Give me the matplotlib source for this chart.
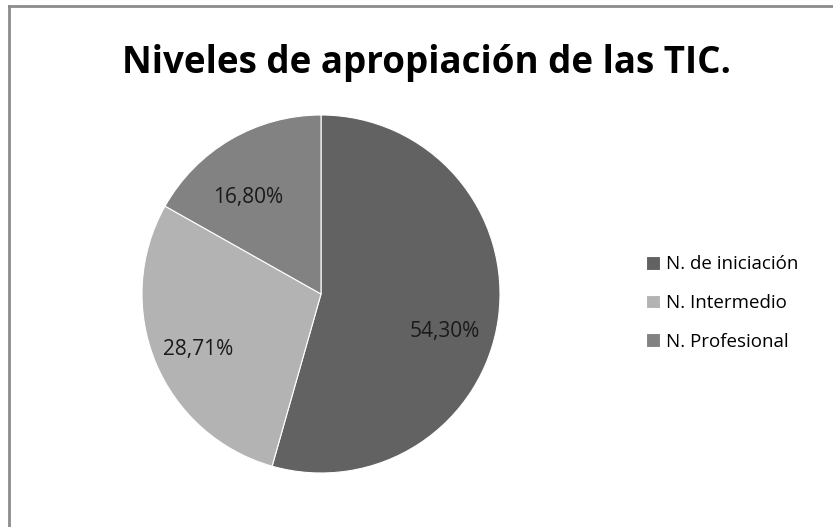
import matplotlib
matplotlib.use('Agg')
import matplotlib.pyplot as plt
from matplotlib.lines import Line2D
import numpy as np

plt.rcParams['font.family'] = ['Open Sans', 'DejaVu Sans']

categorias = ['N. de iniciación', 'N. Intermedio', 'N. Profesional']
valores = [54.30, 28.71, 16.80]
colores = ['#626262', '#b3b3b3', '#828282']
titulo = 'Niveles de apropiación de las TIC.'

fig = plt.figure(figsize=(8.33, 5.27), dpi=100)
fig.patch.set_facecolor('white')

# marco gris del grafico
fig.add_artist(Line2D([8.5/833, 1], [1 - 5.5/527, 1 - 5.5/527], color='#8c8c8c', lw=2, transform=fig.transFigure))
fig.add_artist(Line2D([8.5/833, 8.5/833], [0, 1 - 5.5/527], color='#8c8c8c', lw=2, transform=fig.transFigure))

ax = fig.add_axes([142/833, 54/527, 358/833, 358/527])
wedges, texts = ax.pie(valores, colors=colores, startangle=90, counterclock=False,
                       wedgeprops=dict(edgecolor='white', linewidth=0.8), normalize=True)

# etiquetas de porcentaje dentro de cada sector (distancia, desvio angular)
dist = [0.725, 0.755, 0.675]
desvio = [-9, 2, 7]
for w, v, d, off in zip(wedges, valores, dist, desvio):
    ang = np.deg2rad((w.theta1 + w.theta2) / 2 + off)
    ax.text(d*np.cos(ang), d*np.sin(ang), ('%.2f%%' % v).replace('.', ','),
            ha='center', va='center', fontsize=15, color='#1a1a1a')
ax.set_xlim(-1, 1)
ax.set_ylim(-1, 1)

fig.text(426/833, 1 - 63/527, titulo, ha='center', va='center', fontsize=26.5, fontweight='bold')

leg = fig.legend(wedges, categorias, loc='center left', bbox_to_anchor=(629/833, 1 - 303/527),
                 frameon=False, fontsize=13.5, handlelength=0.75, handleheight=0.75,
                 handletextpad=0.35, labelspacing=1.1)

fig.savefig('out.png', dpi=100)
